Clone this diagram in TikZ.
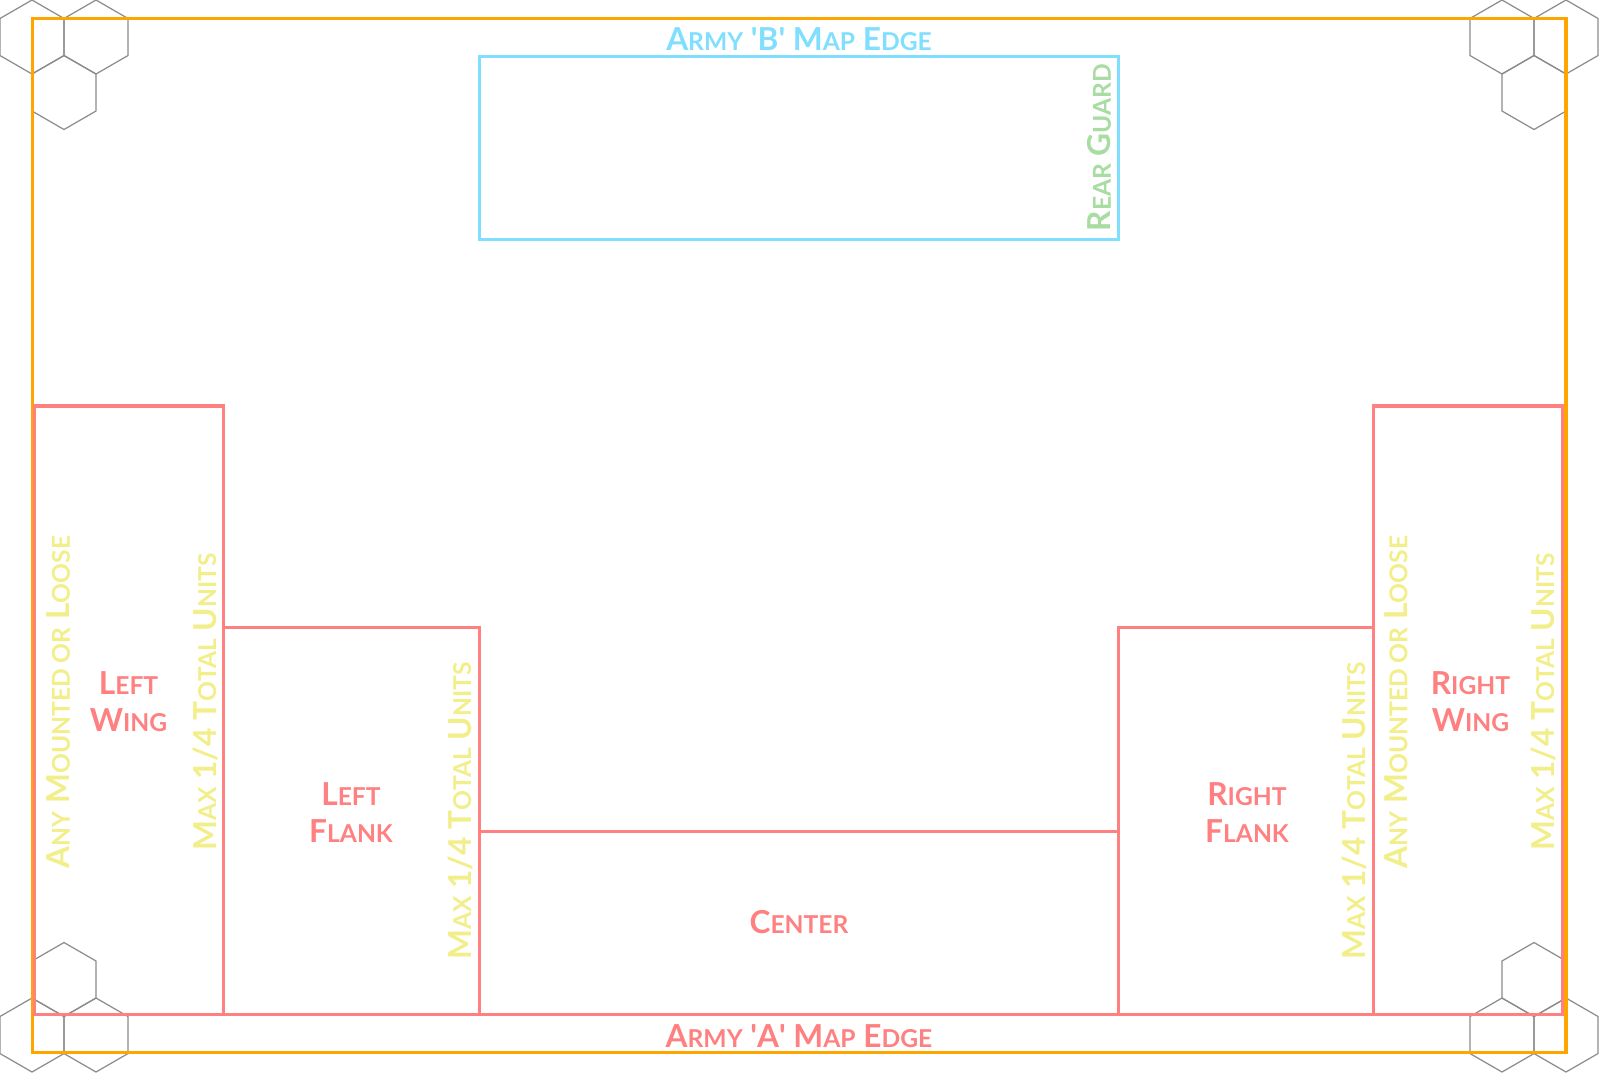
\documentclass[tikz,border=0pt]{standalone}
\usepackage{fontspec}
\setmainfont{Lato}
\newcommand\sm[1]{{\fontsize{7}{8}\selectfont #1}}
\newcommand\qmark{\textquotesingle}
\definecolor{frameorange}{HTML}{FFA500}
\definecolor{zoneblue}{HTML}{80DFFF}
\definecolor{zonepink}{HTML}{FF8080}
\definecolor{noteyellow}{HTML}{F2EE8A}
\definecolor{guardgreen}{HTML}{A8DCA2}
\definecolor{hexgray}{HTML}{8C8C8C}
\tikzset{
  hexline/.style={draw=hexgray, line width=0.35pt},
  frameline/.style={draw=frameorange, line width=0.95pt},
  pinkline/.style={draw=zonepink, line width=0.9pt},
  blueline/.style={draw=zoneblue, line width=0.9pt},
  lbl/.style={font=\fontsize{9}{10.5}\selectfont\bfseries, inner sep=0pt, align=center},
  zonelbl/.style={lbl, text=zonepink},
  notelbl/.style={lbl, text=noteyellow, rotate=90},
}
\begin{document}
\begin{tikzpicture}[x=0.01cm, y=-0.01cm]
\useasboundingbox (0,0) rectangle (1600,1072);
\clip (0,0) rectangle (1600,1072);
% hex decorations
\foreach \cx/\cy in {32/37, 96/37, 64/92.5, 1502/37, 1566/37, 1534/92.5, 64/979.5, 32/1035, 96/1035, 1534/979.5, 1502/1035, 1566/1035}
  \draw[hexline] (\cx,\cy) +(90:37) -- +(150:37) -- +(210:37) -- +(270:37) -- +(330:37) -- +(30:37) -- cycle;
% outer map frame
\draw[frameline] (32.3,18.3) rectangle (1566,1052.5);
% rear guard
\draw[blueline] (479.6,56.1) rectangle (1118.6,239.8);
% deployment zones
\draw[pinkline] (34.6,406) rectangle (223.5,1014.3);
\draw[pinkline] (223.5,627.6) rectangle (479.6,1014.3);
\draw[pinkline] (479.6,831.7) rectangle (1118.6,1014.3);
\draw[pinkline] (1118.6,627.6) rectangle (1373.5,1014.3);
\draw[pinkline] (1373.5,406) rectangle (1562.8,1014.3);
% labels
\node[lbl, text=zoneblue] (edgeB) at (799,39) {A\sm{RMY} \qmark B\qmark{} M\sm{AP} E\sm{DGE}};
\node[lbl, text=guardgreen, rotate=90] (rear) at (1099.5,147.5) {R\sm{EAR} G\sm{UARD}};
\node[zonelbl] (lwing) at (128.6,702) {L\sm{EFT}\\W\sm{ING}};
\node[zonelbl] (lflank) at (351,813) {L\sm{EFT}\\F\sm{LANK}};
\node[zonelbl] (center) at (799,922.5) {C\sm{ENTER}};
\node[zonelbl] (rflank) at (1247,813) {R\sm{IGHT}\\F\sm{LANK}};
\node[zonelbl] (rwing) at (1470.5,702) {R\sm{IGHT}\\W\sm{ING}};
\node[zonelbl] (edgeA) at (799,1036) {A\sm{RMY} \qmark A\qmark{} M\sm{AP} E\sm{DGE}};
\node[notelbl] (lany) at (58.5,702) {A\sm{NY} M\sm{OUNTED OR} L\sm{OOSE}};
\node[notelbl] (lmax1) at (205,702) {M\sm{AX} 1/4 T\sm{OTAL} U\sm{NITS}};
\node[notelbl] (lmax2) at (460,811) {M\sm{AX} 1/4 T\sm{OTAL} U\sm{NITS}};
\node[notelbl] (rmax2) at (1354,811) {M\sm{AX} 1/4 T\sm{OTAL} U\sm{NITS}};
\node[notelbl] (rany) at (1396,702) {A\sm{NY} M\sm{OUNTED OR} L\sm{OOSE}};
\node[notelbl] (rmax1) at (1543,702) {M\sm{AX} 1/4 T\sm{OTAL} U\sm{NITS}};
\end{tikzpicture}
\end{document}
